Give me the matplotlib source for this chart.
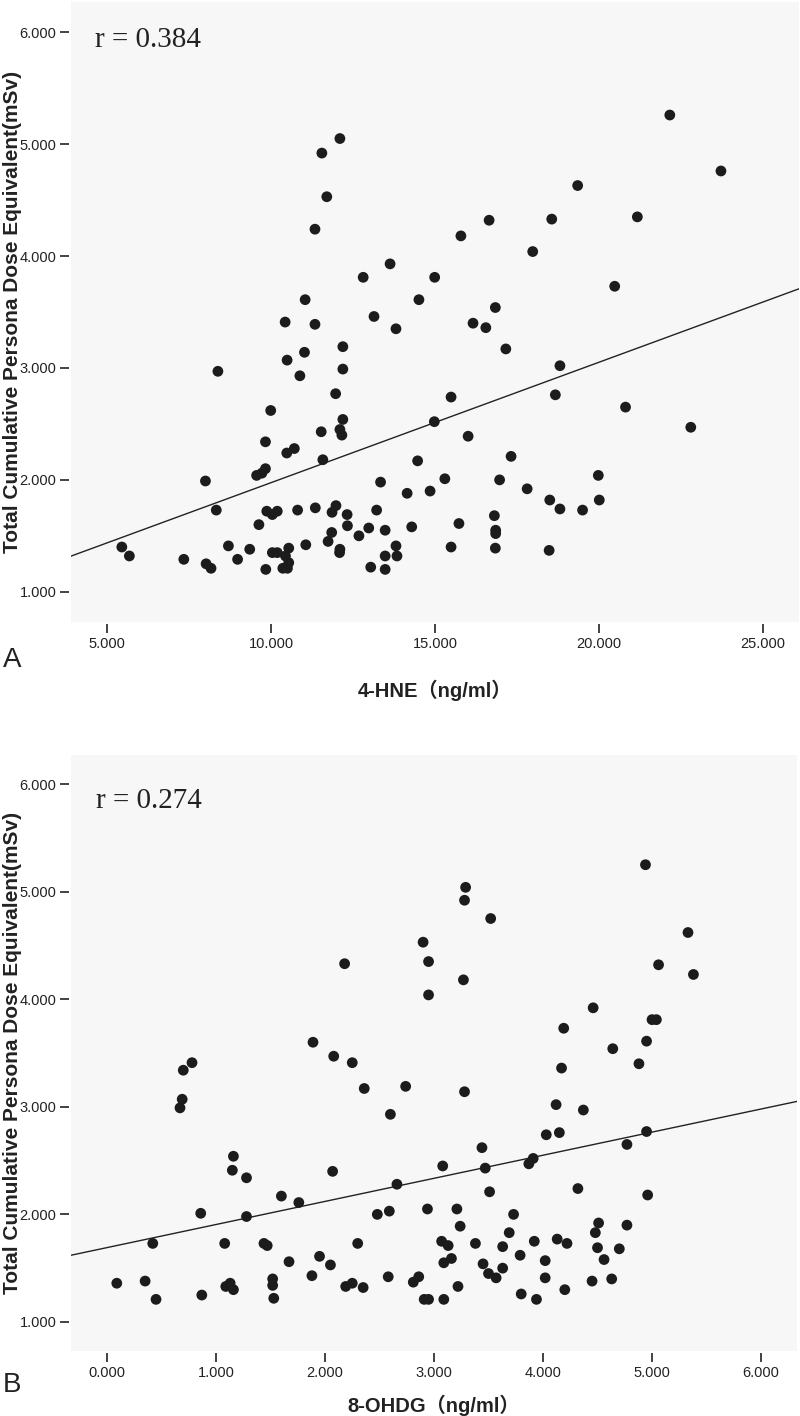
import matplotlib
matplotlib.use("Agg")
import matplotlib.pyplot as plt
import numpy as np
from matplotlib.ticker import FormatStrFormatter

# panel A: 4-HNE vs dose
hne_x = [
    12.10, 11.55, 11.70, 11.34, 13.63, 12.81, 11.04, 14.51, 13.14, 10.43,
    11.34, 13.81, 22.16, 23.72, 19.35, 16.65, 15.79, 18.56, 21.17, 17.98,
    14.99, 20.48, 16.84, 16.16, 16.55, 12.19, 11.02, 10.49, 12.19, 8.38,
    10.88, 11.97, 9.99, 12.19, 12.10, 12.16, 11.53, 9.83, 10.71, 10.48,
    11.58, 14.47, 9.83, 9.72, 9.56, 8.00, 13.34, 14.15, 14.85, 8.33,
    9.87, 10.04, 10.19, 10.81, 11.35, 11.86, 11.98, 12.32, 13.22, 9.63,
    12.33, 12.98, 13.48, 14.29, 11.85, 12.68, 11.74, 11.06, 5.45, 8.70,
    9.35, 10.04, 10.19, 10.54, 13.81, 12.10, 12.09, 5.68, 7.34, 8.98,
    10.44, 10.54, 13.48, 13.84, 8.02, 8.17, 9.84, 10.36, 10.50, 13.04,
    13.48, 17.16, 18.81, 15.49, 18.67, 20.81, 22.80, 14.98, 16.01, 17.32,
    15.30, 16.97, 19.98, 17.81, 18.50, 18.81, 19.50, 20.01, 15.73, 16.81,
    16.85, 16.85, 15.49, 16.84, 18.48,
]
hne_y = [
    5.05, 4.92, 4.53, 4.24, 3.93, 3.81, 3.61, 3.61, 3.46, 3.41,
    3.39, 3.35, 5.26, 4.76, 4.63, 4.32, 4.18, 4.33, 4.35, 4.04,
    3.81, 3.73, 3.54, 3.40, 3.36, 3.19, 3.14, 3.07, 2.99, 2.97,
    2.93, 2.77, 2.62, 2.54, 2.45, 2.40, 2.43, 2.34, 2.28, 2.24,
    2.18, 2.17, 2.10, 2.06, 2.04, 1.99, 1.98, 1.88, 1.90, 1.73,
    1.72, 1.69, 1.72, 1.73, 1.75, 1.71, 1.77, 1.69, 1.73, 1.60,
    1.59, 1.57, 1.55, 1.58, 1.53, 1.50, 1.45, 1.42, 1.40, 1.41,
    1.38, 1.35, 1.35, 1.39, 1.41, 1.38, 1.35, 1.32, 1.29, 1.29,
    1.32, 1.26, 1.32, 1.32, 1.25, 1.21, 1.20, 1.21, 1.21, 1.22,
    1.20, 3.17, 3.02, 2.74, 2.76, 2.65, 2.47, 2.52, 2.39, 2.21,
    2.01, 2.00, 2.04, 1.92, 1.82, 1.74, 1.73, 1.82, 1.61, 1.68,
    1.55, 1.52, 1.40, 1.39, 1.37,
]
hne_fit = (0.899, 0.1076)  # intercept, slope
hne_r = "r = 0.384"

# panel B: 8-OHDG vs dose
ohdg_x = [
    2.18, 2.90, 2.95, 2.95, 1.89, 2.08, 2.25, 0.78, 4.94, 3.29,
    3.28, 3.52, 5.33, 5.06, 5.38, 3.27, 4.46, 5.00, 5.04, 4.19,
    4.95, 4.64, 4.88, 0.70, 2.36, 2.74, 0.69, 0.67, 2.60, 1.16,
    1.15, 1.28, 2.07, 1.60, 1.76, 2.66, 0.86, 1.28, 2.48, 2.59,
    2.94, 0.42, 1.08, 1.44, 1.47, 2.30, 1.67, 1.95, 2.05, 1.88,
    1.52, 1.52, 2.58, 2.81, 2.86, 0.09, 0.35, 1.09, 1.13, 1.16,
    2.19, 2.25, 2.35, 0.45, 0.87, 1.53, 2.91, 2.95, 3.09, 4.17,
    3.28, 4.12, 4.37, 4.03, 4.15, 4.95, 4.77, 3.44, 3.08, 3.47,
    3.87, 3.91, 4.32, 4.96, 3.51, 3.21, 3.73, 3.24, 3.69, 4.51,
    4.48, 4.77, 3.07, 3.13, 3.38, 3.63, 3.92, 4.13, 4.22, 4.50,
    4.70, 3.16, 3.09, 3.45, 3.79, 4.02, 4.56, 3.50, 3.57, 3.63,
    4.02, 4.45, 4.63, 3.22, 3.80, 4.20, 3.94,
]
ohdg_y = [
    4.33, 4.53, 4.35, 4.04, 3.60, 3.47, 3.41, 3.41, 5.25, 5.04,
    4.92, 4.75, 4.62, 4.32, 4.23, 4.18, 3.92, 3.81, 3.81, 3.73,
    3.61, 3.54, 3.40, 3.34, 3.17, 3.19, 3.07, 2.99, 2.93, 2.54,
    2.41, 2.34, 2.40, 2.17, 2.11, 2.28, 2.01, 1.98, 2.00, 2.03,
    2.05, 1.73, 1.73, 1.73, 1.71, 1.73, 1.56, 1.61, 1.53, 1.43,
    1.40, 1.34, 1.42, 1.37, 1.42, 1.36, 1.38, 1.33, 1.36, 1.30,
    1.33, 1.36, 1.32, 1.21, 1.25, 1.22, 1.21, 1.21, 1.21, 3.36,
    3.14, 3.02, 2.97, 2.74, 2.76, 2.77, 2.65, 2.62, 2.45, 2.43,
    2.47, 2.52, 2.24, 2.18, 2.21, 2.05, 2.00, 1.89, 1.83, 1.92,
    1.83, 1.90, 1.75, 1.71, 1.73, 1.70, 1.75, 1.77, 1.73, 1.69,
    1.68, 1.59, 1.55, 1.54, 1.62, 1.57, 1.58, 1.45, 1.41, 1.50,
    1.41, 1.38, 1.40, 1.33, 1.26, 1.30, 1.21,
]
ohdg_fit = (1.691, 0.2147)
ohdg_r = "r = 0.274"

y_ticks = [1, 2, 3, 4, 5, 6]
ylabel = "Total Cumulative Persona Dose Equivalent(mSv)"

plt.rcParams["font.family"] = ["Liberation Sans", "Noto Sans CJK SC"]

W, H = 800, 1416
fig = plt.figure(figsize=(W / 100, H / 100), dpi=100)


def px_box(left, top, right, bottom):
    return [left / W, 1 - bottom / H, (right - left) / W, (bottom - top) / H]


def draw_panel(ax, xs, ys, fit, rtext, xlim, xticks, xlabel, r_pos, xlabel_y):
    ax.set_facecolor("#f7f7f7")
    ax.scatter(xs, ys, s=60, color="#1c1c1c", edgecolors="none", zorder=3)
    xl = np.array(xlim)
    ax.plot(xl, fit[0] + fit[1] * xl, color="#222222", linewidth=1.0, zorder=2)
    ax.set_xlim(*xlim)
    ax.set_ylim(0.73, 6.27)
    ax.set_xticks(xticks)
    ax.set_yticks(y_ticks)
    ax.xaxis.set_major_formatter(FormatStrFormatter("%.3f"))
    ax.yaxis.set_major_formatter(FormatStrFormatter("%.3f"))
    for side in ["top", "right"]:
        ax.spines[side].set_visible(False)
    for side in ["bottom", "left"]:
        ax.spines[side].set_color("none")
        ax.spines[side].set_position(("outward", 1.5))
    ax.tick_params(axis="both", direction="out", length=6.5, width=1.2,
                   color="#222222", labelsize=10.5, pad=2.5, labelcolor="#222222")
    ax.set_xlabel(xlabel, fontsize=14.5, fontweight="bold", color="#222222")
    ax.xaxis.set_label_coords(0.5, xlabel_y)
    ax.xaxis.label.set_va("center")
    ax.set_ylabel(ylabel, fontsize=15, fontweight="bold", color="#222222")
    ax.yaxis.label.set_va("center")
    ax.text(r_pos[0], r_pos[1], rtext, transform=ax.transAxes,
            family=["Liberation Serif", "DejaVu Serif"], fontsize=21,
            va="baseline", ha="left", color="#222222")


ax_a = fig.add_axes(px_box(71, 2, 799, 622))
draw_panel(ax_a, hne_x, hne_y, hne_fit, hne_r, (3.9, 26.1), [5, 10, 15, 20, 25],
           "4-HNE\uff08ng/ml\uff09", (0.033, 0.927), (622 - 690) / 620)
ax_a.yaxis.set_label_coords((12.5 - 71) / 728, 0.5)

ax_b = fig.add_axes(px_box(71, 755, 797, 1351))
draw_panel(ax_b, ohdg_x, ohdg_y, ohdg_fit, ohdg_r, (-0.33, 6.33), [0, 1, 2, 3, 4, 5, 6],
           "8-OHDG\uff08ng/ml\uff09", (0.034, 0.911), (1351 - 1405) / 596)
ax_b.yaxis.set_label_coords((12.5 - 71) / 726, 0.5)

fig.text(12 / W, 1 - 660 / H, "A", fontsize=20, ha="center", va="center", color="#222222")
fig.text(12 / W, 1 - 1385 / H, "B", fontsize=20, ha="center", va="center", color="#222222")

fig.savefig("out.png", dpi=100)
